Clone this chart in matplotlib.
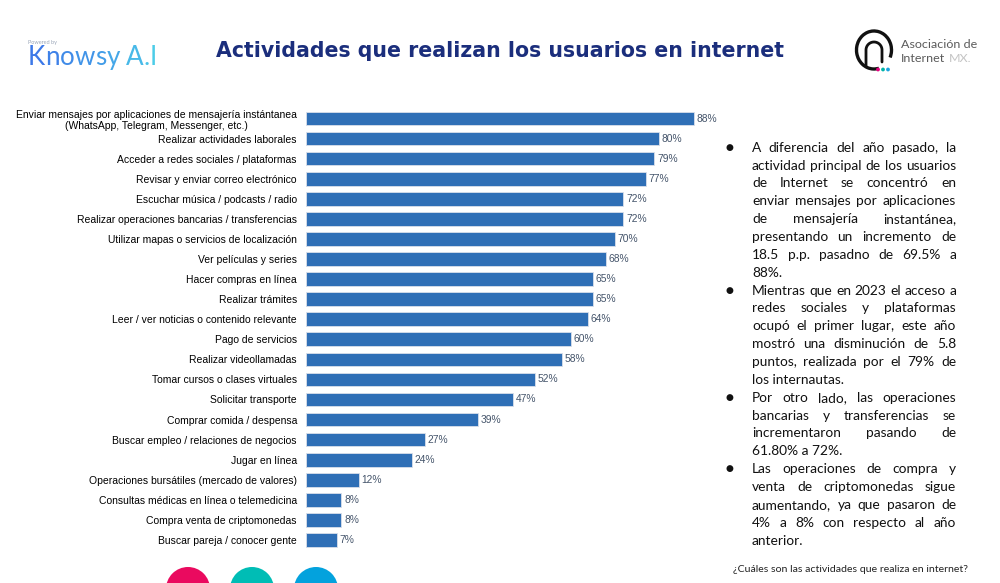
import matplotlib
matplotlib.use("Agg")
import matplotlib.pyplot as plt
import numpy as np
from matplotlib.patches import Circle, Arc
from matplotlib import font_manager

# data
actividades = [
    "Enviar mensajes por aplicaciones de mensajería instántanea\n(WhatsApp, Telegram, Messenger, etc.)",
    "Realizar actividades laborales",
    "Acceder a redes sociales / plataformas",
    "Revisar y enviar correo electrónico",
    "Escuchar música / podcasts / radio",
    "Realizar operaciones bancarias / transferencias",
    "Utilizar mapas o servicios de localización",
    "Ver películas y series",
    "Hacer compras en línea",
    "Realizar trámites",
    "Leer / ver noticias o contenido relevante",
    "Pago de servicios",
    "Realizar videollamadas",
    "Tomar cursos o clases virtuales",
    "Solicitar transporte",
    "Comprar comida / despensa",
    "Buscar empleo / relaciones de negocios",
    "Jugar en línea",
    "Operaciones bursátiles (mercado de valores)",
    "Consultas médicas en línea o telemedicina",
    "Compra venta de criptomonedas",
    "Buscar pareja / conocer gente",
]
porcentajes = [88, 80, 79, 77, 72, 72, 70, 68, 65, 65, 64, 60, 58, 52, 47, 39, 27, 24, 12, 8, 8, 7]

titulo = "Actividades que realizan los usuarios en internet"
pregunta = "¿Cuáles son las actividades que realiza en internet?"

parrafos = [
    ["A diferencia del año pasado, la",
     "actividad principal de los usuarios",
     "de Internet se concentró en",
     "enviar mensajes por aplicaciones",
     "de mensajería instantánea,",
     "presentando un incremento de",
     "18.5 p.p. pasadno de 69.5% a",
     "88%."],
    ["Mientras que en 2023 el acceso a",
     "redes sociales y plataformas",
     "ocupó el primer lugar, este año",
     "mostró una disminución de 5.8",
     "puntos, realizada por el 79% de",
     "los internautas."],
    ["Por otro lado, las operaciones",
     "bancarias y transferencias se",
     "incrementaron pasando de",
     "61.80% a 72%."],
    ["Las operaciones de compra y",
     "venta de criptomonedas sigue",
     "aumentando, ya que pasaron de",
     "4% a 8% con respecto al año",
     "anterior."],
]

# narrow font for the text panel if there is one
try:
    font_manager.findfont(font_manager.FontProperties(family="Liberation Sans Narrow"),
                          fallback_to_default=False)
    panel_family = "Liberation Sans Narrow"
except Exception:
    panel_family = "Lato"

W, H = 1000, 583
fig = plt.figure(figsize=(W / 100, H / 100), dpi=100)
fig.patch.set_facecolor("white")

# full-figure axes in pixel units for texts and decorations
bg = fig.add_axes([0, 0, 1, 1])
bg.set_xlim(0, W)
bg.set_ylim(H, 0)
bg.axis("off")

renderer = fig.canvas.get_renderer()


def text_width(s, **kw):
    t = bg.text(0, 0, s, **kw)
    w = t.get_window_extent(renderer).width
    t.remove()
    return w


def fit_size(s, width, base, **kw):
    return base * width / text_width(s, fontsize=base, **kw)


# title
tsize = fit_size(titulo, 570, 15, family="DejaVu Sans", fontweight="bold")
bg.text(500, 57, titulo, ha="center", va="baseline", fontsize=tsize,
        family="DejaVu Sans", fontweight="bold", color="#1B2E7C")

# Knowsy logo
bg.text(28, 44, "Powered by", fontsize=4, color="#9aa6b8", family="Lato", va="baseline")
logo = "Knowsy A.I"
lsize = fit_size(logo, 129, 18, family="Lato")
c0, c1 = np.array([0x3c, 0x78, 0xe8]) / 255, np.array([0x4c, 0xcc, 0xe8]) / 255
x = 28
for k, ch in enumerate(logo):
    col = c0 + (c1 - c0) * k / (len(logo) - 1)
    bg.text(x, 65, ch, fontsize=lsize, family="Lato", color=col, va="baseline", ha="left")
    x += text_width(ch, fontsize=lsize, family="Lato") if ch != " " else lsize * 0.35

# Asociación de Internet MX logo
bg.add_patch(Arc((874, 50), 35, 38, theta1=75, theta2=385, lw=2.4, color="#111"))
t = np.linspace(np.pi, 2 * np.pi, 40)
archx = np.concatenate([[866], 874 + 8 * np.cos(t), [882]])
archy = np.concatenate([[66], 50 + 8 * np.sin(t), [62]])
bg.plot(archx, archy, color="#111", lw=2.0, solid_capstyle="round")
for cx, col in zip([878, 883, 888], ["#e5007e", "#00b3a8", "#1aa3e0"]):
    bg.add_patch(Circle((cx, 69.5), 1.9, color=col, lw=0))
asize = fit_size("Asociación de", 76, 9, family="Lato")
bg.text(901, 48, "Asociación de", fontsize=asize, family="Lato",
        color="#5a5a5a", va="baseline")
bg.text(901, 62, "Internet", fontsize=asize, family="Lato",
        color="#5a5a5a", va="baseline")
iw = text_width("Internet ", fontsize=asize, family="Lato")
bg.text(901 + iw, 62, "MX.", fontsize=asize, family="Lato",
        color="#c4c4c4", va="baseline")

# decorative circles at the bottom
for cx, col in zip([188, 252, 316], ["#ea0a5f", "#00bdb5", "#03a2dd"]):
    bg.add_patch(Circle((cx, 589), 22, color=col, lw=0))

# right panel: justified bullets
left, right = 752, 956
panel = dict(family=panel_family, color="#111111")
base = 10.5
widest = max(text_width(l, fontsize=base, **panel) for p in parrafos for l in p[:-1])
psize = min(base, base * (right - left) / widest)
panel["fontsize"] = psize
y = 151.7
for para in parrafos:
    bg.text(729, y - 4.5, "●", family="DejaVu Sans", fontsize=6.5,
            ha="center", va="center", color="#111")
    for k, line in enumerate(para):
        words = line.split()
        if k == len(para) - 1 or len(words) == 1:
            bg.text(left, y, line, ha="left", va="baseline", **panel)
        else:
            widths = [text_width(w, **panel) for w in words]
            gap = (right - left - sum(widths)) / (len(words) - 1)
            x = left
            for w, wd in zip(words, widths):
                bg.text(x, y, w, ha="left", va="baseline", **panel)
                x += wd + gap
        y += 17.86

fsize = fit_size(pregunta, 235, 8, family=panel_family)
bg.text(733, 572, pregunta, fontsize=fsize, family=panel_family, color="#222", va="baseline")

# bar chart
px_per_pct = (694 - 306) / 88
ax_left, ax_right, ax_top, ax_bot = 306, 740, 108, 552
bar_y0, bar_step = 118.5, 20.07
ax = fig.add_axes([ax_left / W, 1 - ax_bot / H, (ax_right - ax_left) / W, (ax_bot - ax_top) / H])
ax.patch.set_alpha(0)
pos = np.arange(len(actividades))
ax.barh(pos, porcentajes, height=0.68, color="#2F6FB6", edgecolor="#d9dfea", linewidth=0.6)
ax.set_xlim(0, (ax_right - ax_left) / px_per_pct)
ax.set_ylim((ax_bot - bar_y0) / bar_step, (ax_top - bar_y0) / bar_step)
ax.set_yticks(pos)
ax.set_yticklabels(actividades, fontsize=7.5, family="Liberation Sans", multialignment="center")
ax.tick_params(axis="y", length=0, pad=6.5)
ax.set_xticks([])
for s in ax.spines.values():
    s.set_visible(False)
for i, v in enumerate(porcentajes):
    ax.annotate(f"{v}%", (v, i), xytext=(2, 0), textcoords="offset points",
                va="center", ha="left", fontsize=7.4, color="#44546A",
                family="Liberation Sans", annotation_clip=False)

fig.savefig("out.png", dpi=100)
